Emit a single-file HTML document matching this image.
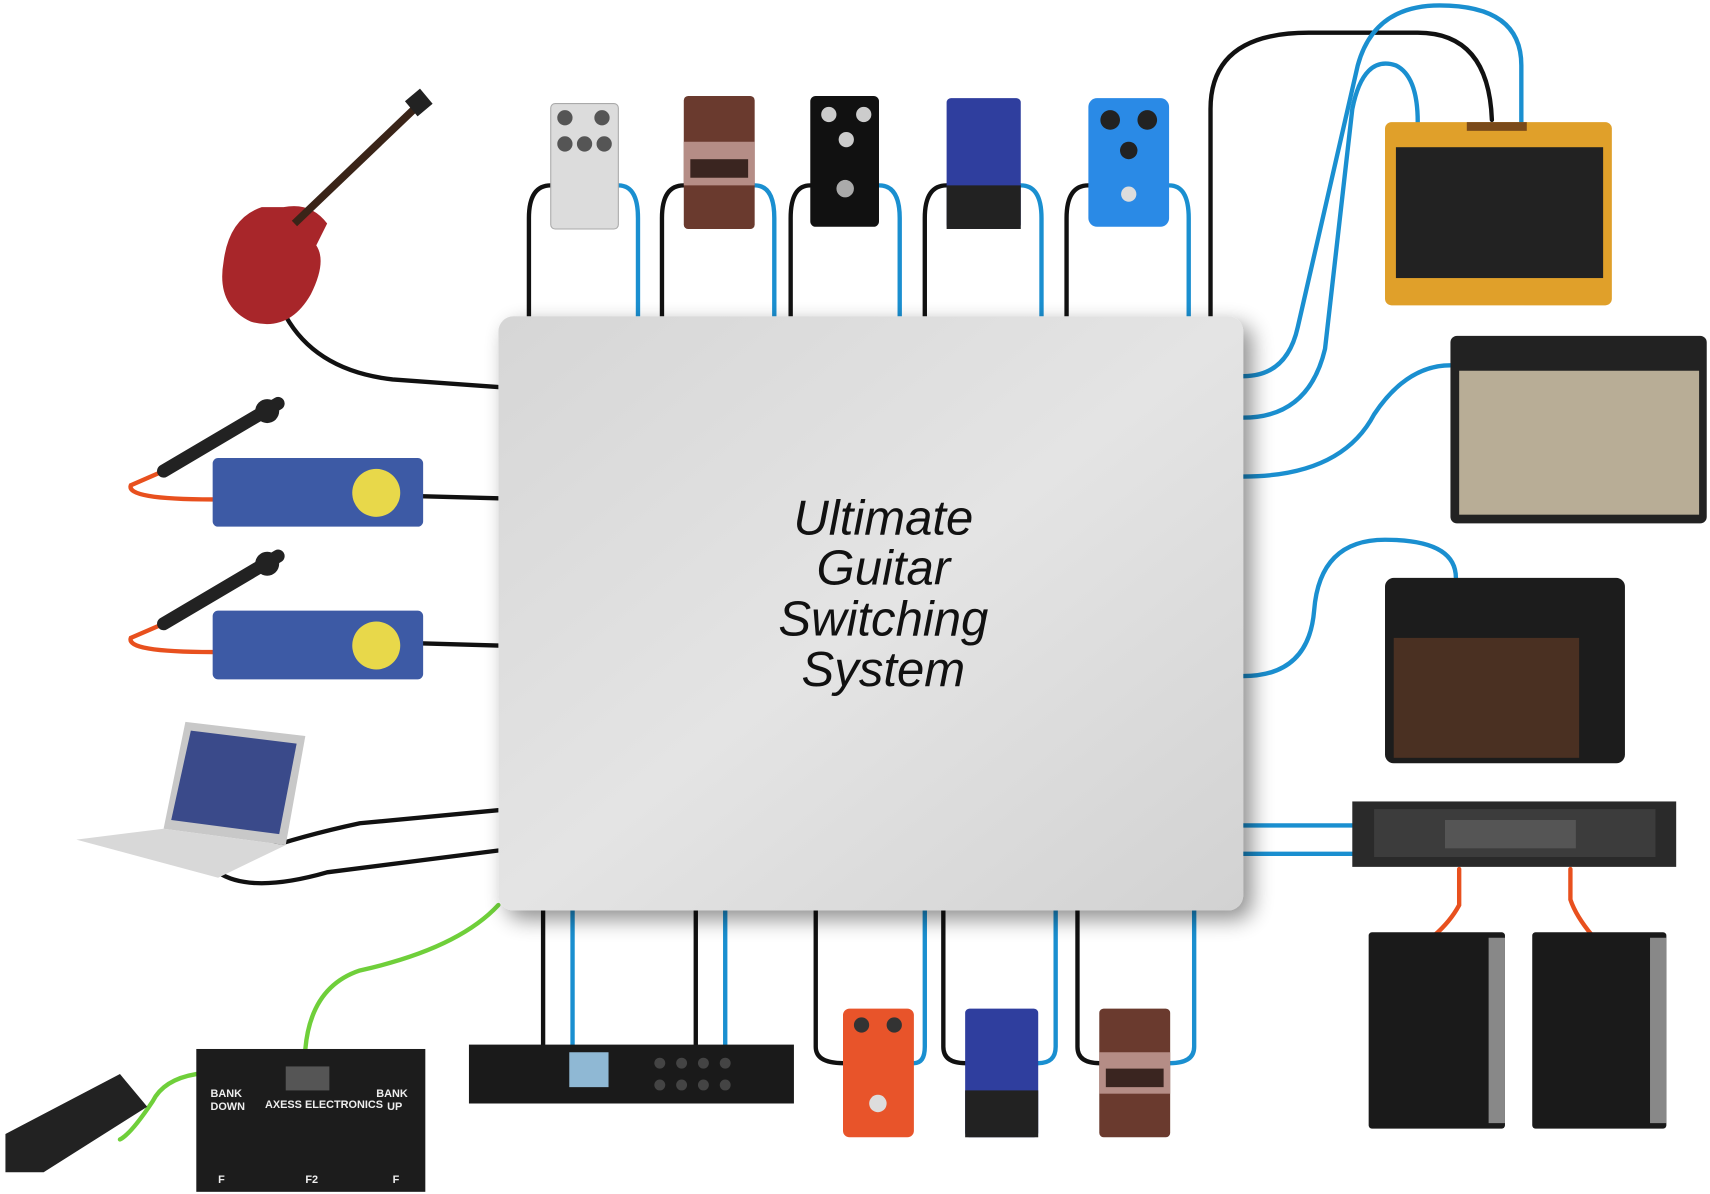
<!DOCTYPE html>
<html><head><meta charset="utf-8"><style>
html,body{margin:0;padding:0;background:#fff;width:1710px;height:1194px;overflow:hidden}
svg{display:block}
</style></head><body>
<svg width="1710" height="1194" viewBox="0 0 1568 1095" preserveAspectRatio="none" xmlns="http://www.w3.org/2000/svg">
<defs>
<linearGradient id="bx" x1="0" y1="0" x2="1" y2="1"><stop offset="0" stop-color="#d6d6d6"/><stop offset="0.5" stop-color="#e4e4e4"/><stop offset="1" stop-color="#d2d2d2"/></linearGradient>
<filter id="sh" x="-10%" y="-10%" width="125%" height="125%"><feGaussianBlur in="SourceAlpha" stdDeviation="10"/><feOffset dx="8" dy="8"/><feComponentTransfer><feFuncA type="linear" slope="0.45"/></feComponentTransfer><feMerge><feMergeNode/><feMergeNode in="SourceGraphic"/></feMerge></filter>
</defs>
<g fill="none" stroke-width="4" stroke-linecap="round">
<path d="M505 170 Q485 170 485 200 L485 290" stroke="#111"/>
<path d="M567 170 Q585 170 585 200 L585 290" stroke="#1a8fd0"/>
<path d="M627 170 Q607 170 607 200 L607 290" stroke="#111"/>
<path d="M692 170 Q710 170 710 200 L710 290" stroke="#1a8fd0"/>
<path d="M743 170 Q725 170 725 200 L725 290" stroke="#111"/>
<path d="M806 170 Q825 170 825 200 L825 290" stroke="#1a8fd0"/>
<path d="M868 170 Q848 170 848 200 L848 290" stroke="#111"/>
<path d="M936 170 Q955 170 955 200 L955 290" stroke="#1a8fd0"/>
<path d="M998 170 Q978 170 978 200 L978 290" stroke="#111"/>
<path d="M1072 170 Q1090 170 1090 200 L1090 290" stroke="#1a8fd0"/>
<path d="M1110 290 L1110 100 Q1110 30 1200 30 L1300 30 Q1365 30 1368 110" stroke="#111"/>
<path d="M1140 345 Q1180 345 1190 300 L1245 60 Q1260 5 1320 5 Q1395 5 1395 60 L1395 112" stroke="#1a8fd0"/>
<path d="M1140 383 Q1200 383 1215 320 L1240 100 Q1250 50 1280 60 Q1300 70 1300 112" stroke="#1a8fd0"/>
<path d="M1140 437 Q1230 437 1260 380 Q1290 335 1330 335" stroke="#1a8fd0"/>
<path d="M1140 620 Q1200 620 1205 560 Q1210 495 1270 495 Q1335 495 1335 530" stroke="#1a8fd0"/>
<path d="M1140 757 L1240 757 M1140 783 L1240 783" stroke="#1a8fd0"/>
<path d="M1338 797 L1338 830 Q1330 845 1315 858 M1440 797 L1440 825 Q1445 840 1460 858" stroke="#e8501e"/>
<path d="M262 290 Q290 340 360 348 L457 355" stroke="#111"/>
<path d="M385 455 L457 457 M385 590 L457 592" stroke="#111"/>
<path d="M205 792 Q260 770 330 755 L457 743 M200 800 Q230 820 300 800 L457 780" stroke="#111"/>
<path d="M457 830 Q420 870 330 890 Q285 905 280 962" stroke="#6fcf3a"/>
<path d="M180 985 Q150 990 140 1010 Q120 1040 110 1045" stroke="#6fcf3a"/>
<path d="M150 432 L120 445 Q115 458 195 458 M150 572 L120 585 Q115 598 195 598" stroke="#e8501e"/>
<path d="M498 835 L498 960" stroke="#111"/><path d="M525 835 L525 960" stroke="#1a8fd0"/>
<path d="M638 835 L638 960" stroke="#111"/><path d="M665 835 L665 960" stroke="#1a8fd0"/>
<path d="M748 835 L748 960 Q748 975 773 975" stroke="#111"/><path d="M848 835 L848 960 Q848 975 838 975" stroke="#1a8fd0"/>
<path d="M865 835 L865 960 Q865 975 885 975" stroke="#111"/><path d="M968 835 L968 960 Q968 975 952 975" stroke="#1a8fd0"/>
<path d="M988 835 L988 960 Q988 975 1008 975" stroke="#111"/><path d="M1095 835 L1095 960 Q1095 975 1073 975" stroke="#1a8fd0"/>
</g>
<rect x="457" y="290" width="683" height="545" rx="14" fill="url(#bx)" filter="url(#sh)"/>
<g font-family="Liberation Sans, sans-serif" font-style="italic" font-size="45" fill="#111" text-anchor="middle">
<text x="810" y="490">Ultimate</text><text x="810" y="536">Guitar</text><text x="810" y="583">Switching</text><text x="810" y="629">System</text>
</g>
<rect x="505" y="95" width="62" height="115" rx="4" fill="#dcdcdc" stroke="#aaa"/>
<circle cx="518" cy="108" r="7" fill="#555"/><circle cx="552" cy="108" r="7" fill="#555"/><circle cx="518" cy="132" r="7" fill="#555"/><circle cx="536" cy="132" r="7" fill="#555"/><circle cx="554" cy="132" r="7" fill="#555"/>
<rect x="627" y="88" width="65" height="122" rx="4" fill="#6a3a2e"/><rect x="627" y="130" width="65" height="40" fill="#b58d86"/><rect x="633" y="146" width="53" height="17" fill="#3a2520"/>
<rect x="743" y="88" width="63" height="120" rx="5" fill="#111"/><circle cx="760" cy="105" r="7" fill="#ccc"/><circle cx="792" cy="105" r="7" fill="#ccc"/><circle cx="776" cy="128" r="7" fill="#ccc"/><circle cx="775" cy="173" r="8" fill="#aaa"/>
<rect x="868" y="90" width="68" height="120" rx="4" fill="#2f3e9e"/><rect x="868" y="170" width="68" height="40" fill="#222"/>
<rect x="998" y="90" width="74" height="118" rx="8" fill="#2a8ae6"/><circle cx="1018" cy="110" r="9" fill="#222"/><circle cx="1052" cy="110" r="9" fill="#222"/><circle cx="1035" cy="138" r="8" fill="#222"/><circle cx="1035" cy="178" r="7" fill="#ddd"/>
<rect x="430" y="958" width="298" height="54" fill="#1a1a1a"/><rect x="522" y="965" width="36" height="32" fill="#8fb8d4"/>
<g fill="#444"><circle cx="605" cy="975" r="5"/><circle cx="625" cy="975" r="5"/><circle cx="645" cy="975" r="5"/><circle cx="665" cy="975" r="5"/><circle cx="605" cy="995" r="5"/><circle cx="625" cy="995" r="5"/><circle cx="645" cy="995" r="5"/><circle cx="665" cy="995" r="5"/></g>
<rect x="773" y="925" width="65" height="118" rx="6" fill="#e8542a"/><circle cx="790" cy="940" r="7" fill="#333"/><circle cx="820" cy="940" r="7" fill="#333"/><circle cx="805" cy="1012" r="8" fill="#ddd"/>
<rect x="885" y="925" width="67" height="118" rx="4" fill="#2f3e9e"/><rect x="885" y="1000" width="67" height="43" fill="#222"/>
<rect x="1008" y="925" width="65" height="118" rx="4" fill="#6a3a2e"/><rect x="1008" y="965" width="65" height="38" fill="#b58d86"/><rect x="1014" y="980" width="53" height="17" fill="#3a2520"/>
<rect x="1270" y="112" width="208" height="168" rx="6" fill="#e0a02a"/><rect x="1280" y="135" width="190" height="120" fill="#222"/><rect x="1345" y="112" width="55" height="8" fill="#7a4a1a"/>
<rect x="1330" y="308" width="235" height="172" rx="6" fill="#222"/><rect x="1338" y="340" width="220" height="132" fill="#b8ad96"/>
<rect x="1270" y="530" width="220" height="170" rx="8" fill="#1c1c1c"/><rect x="1278" y="585" width="170" height="110" fill="#4a3022"/>
<rect x="1240" y="735" width="297" height="60" fill="#2a2a2a"/><rect x="1260" y="742" width="258" height="44" fill="#3c3c3c"/><rect x="1325" y="752" width="120" height="26" fill="#555"/>
<rect x="1255" y="855" width="125" height="180" rx="3" fill="#1a1a1a"/><rect x="1365" y="860" width="15" height="170" fill="#888"/>
<rect x="1405" y="855" width="123" height="180" rx="3" fill="#1a1a1a"/><rect x="1513" y="860" width="15" height="170" fill="#888"/>
<path d="M240 190 Q210 200 205 240 Q198 280 230 295 Q265 305 285 270 Q300 240 290 225 L300 205 Q285 185 260 190 Z" fill="#a8262a"/>
<path d="M270 205 L385 95" stroke="#3a2418" stroke-width="7"/><rect x="375" y="85" width="18" height="18" fill="#222" transform="rotate(-40 384 94)"/>
<path d="M150 432 L255 370" stroke="#222" stroke-width="12" stroke-linecap="round"/><circle cx="245" cy="377" r="11" fill="#222"/>
<rect x="195" y="420" width="193" height="63" rx="5" fill="#3d5aa5"/><circle cx="345" cy="452" r="22" fill="#e8d84a"/>
<path d="M150 572 L255 510" stroke="#222" stroke-width="12" stroke-linecap="round"/><circle cx="245" cy="517" r="11" fill="#222"/>
<rect x="195" y="560" width="193" height="63" rx="5" fill="#3d5aa5"/><circle cx="345" cy="592" r="22" fill="#e8d84a"/>
<path d="M170 662 L280 675 L262 775 L150 760 Z" fill="#c8c8c8"/><path d="M175 670 L272 682 L256 765 L157 752 Z" fill="#3a4a8a"/>
<path d="M150 760 L262 775 L200 805 L70 770 Z" fill="#d8d8d8"/>
<rect x="180" y="962" width="210" height="131" fill="#1c1c1c"/><rect x="262" y="978" width="40" height="22" fill="#555"/>
<g font-family="Liberation Sans, sans-serif" font-size="10" font-weight="bold" fill="#eee"><text x="193" y="1006">BANK</text><text x="193" y="1018">DOWN</text><text x="345" y="1006">BANK</text><text x="355" y="1018">UP</text><text x="243" y="1016">AXESS ELECTRONICS</text><text x="200" y="1085">F</text><text x="280" y="1085">F2</text><text x="360" y="1085">F</text></g>
<path d="M5 1040 L110 985 L135 1015 L40 1075 L5 1075 Z" fill="#222"/>
</svg>
</body></html>
